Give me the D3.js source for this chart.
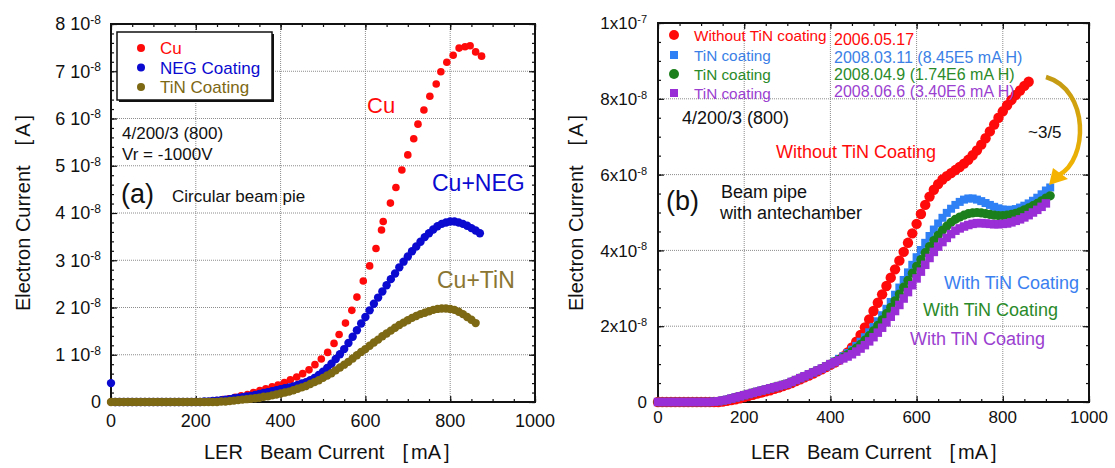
<!DOCTYPE html>
<html>
<head>
<meta charset="utf-8">
<script src="https://cdn.jsdelivr.net/npm/d3@7"></script>
<style>
  body { margin: 0; background: #fff; }
  text { font-family: "Liberation Sans", Arial, sans-serif; }
</style>
</head>
<body>
<svg id="chart" width="1115" height="468"></svg>
<script>
// ---------------------------------------------------------------
// data, panel (a): circular beam pipe, electron current in 1e-8 A
const beamA = [0,10,20,30,40,50,60,70,80,90,100,110,120,130,140,150,160,170,180,190,
  200,210,220,230,240,250,260,270,280,290,300,310,320,330,340,350,360,370,380,390,
  400,410,420,430,440,450,460,470,480,490,500,510,520,530,540,550,560,570,580,590,
  600,610,620,630,640,650,660,670,680,690,700,710,720,730,740,750,760,770,780,790,
  800,810,820,830,840,850,860,870];

const cuX = [0,15,29,44,58,73,87,102,116,131,145,160,175,190,205,220,
  235,249,264,278,293,307,322,336,351,365,380,394,409,423,438,452,467,481,496,511,
  526,538,553,568,580,595,610,625,638,642,659,672,686,700,714,724,738,752,767,778,
  792,807,821,835,847,860,874];
const cuY = [0,0,0,0,0,0,0,0,0,0,0,0,0,0,0,0,
  0.01,0.03,0.05,0.07,0.10,0.13,0.16,0.20,0.24,0.28,0.32,0.36,0.41,0.47,0.53,0.60,0.68,0.79,0.91,1.05,
  1.24,1.43,1.67,1.94,2.22,2.56,2.88,3.25,3.64,3.82,4.21,4.54,4.91,5.23,5.57,5.88,6.18,6.47,6.73,6.99,
  7.19,7.34,7.49,7.52,7.54,7.41,7.32];

// NEG coating, paired with beamA
const negY = [0.40,0,0,0,0,0,0,0,0,0,0,0,0,0,0,0,0,0,0,0,
  0.00,0.00,0.01,0.01,0.02,0.03,0.04,0.05,0.06,0.08,0.09,0.10,0.12,0.13,0.15,0.17,0.19,0.21,0.23,0.25,
  0.27,0.29,0.31,0.33,0.36,0.39,0.42,0.46,0.51,0.57,0.64,0.72,0.81,0.91,1.01,1.12,1.25,1.38,1.52,1.66,
  1.80,1.94,2.08,2.21,2.34,2.47,2.60,2.72,2.85,2.97,3.08,3.19,3.29,3.39,3.49,3.57,3.65,3.72,3.77,3.80,
  3.82,3.82,3.80,3.77,3.73,3.68,3.63,3.57];

// TiN coating, paired with beamA (up to 860 mA)
const tinY = [0,0,0,0,0,0,0,0,0,0,0,0,0,0,0,0,0,0,0,0,
  0,0,0,0,0,0,0.01,0.01,0.02,0.03,0.04,0.05,0.06,0.07,0.08,0.09,0.11,0.12,0.14,0.16,
  0.18,0.20,0.22,0.25,0.28,0.31,0.34,0.38,0.42,0.46,0.51,0.56,0.61,0.67,0.73,0.79,0.85,0.92,0.99,1.06,
  1.12,1.19,1.26,1.32,1.39,1.45,1.51,1.57,1.63,1.68,1.73,1.78,1.82,1.86,1.89,1.92,1.95,1.97,1.98,1.98,
  1.97,1.95,1.91,1.86,1.80,1.74,1.67];

// ---------------------------------------------------------------
// data, panel (b): beam pipe with antechamber, in 1e-8 A
const beamB = [0,10,20,30,40,50,60,70,80,90,100,110,120,130,140,150,160,170,180,190,
  200,210,220,230,240,250,260,270,280,290,300,310,320,330,340,350,360,370,380,390,
  400,410,420,430,440,450,460,470,480,490,500,510,520,530,540,550,560,570,580,590,
  600,610,620,630,640,650,660,670,680,690,700,710,720,730,740,750,760,770,780,790,
  800,810,820,830,840,850,860,870,880,890,900,910];

const withoutTiN = [0,0,0,0,0,0,0,0,0,0,0,0,0,0,0,
  0.01,0.03,0.05,0.07,0.10,0.13,0.16,0.19,0.22,0.25,0.28,0.31,0.35,0.38,0.42,0.46,0.50,0.55,0.60,0.65,
  0.70,0.75,0.81,0.86,0.92,0.98,
  1.04,1.11,1.20,1.31,1.44,1.59,1.77,1.97,2.18,2.40,2.62,2.84,3.06,3.28,3.50,3.73,3.96,4.20,4.45,4.70,
  4.96,5.20,5.42,5.60,5.75,5.87,5.96,6.04,6.12,6.20,6.29,6.39,6.51,6.64,6.79,6.96,7.14,7.32,7.50,7.67,
  7.83,7.97,8.10,8.22,8.34,8.45];

const tin080311 = [0,0,0,0,0,0,0,0,0,0,0,0,0,
  0.01,0.02,0.04,0.06,0.09,0.12,0.15,0.18,0.21,0.24,0.27,0.30,0.33,0.36,0.39,0.42,0.45,0.48,
  0.53,0.58,0.63,0.68,0.73,0.78,0.83,0.88,0.94,1.00,
  1.07,1.14,1.21,1.29,1.38,1.48,1.59,1.71,1.84,1.98,2.13,2.29,2.46,2.64,2.83,3.02,3.22,3.42,3.62,3.82,
  4.01,4.20,4.38,4.55,4.71,4.86,4.99,5.10,5.20,5.28,5.34,5.37,5.37,5.34,5.30,5.25,5.20,5.15,5.11,5.08,
  5.07,5.07,5.09,5.13,5.18,5.24,5.31,5.39,5.48,5.58,5.66];

const tin080409 = [0,0,0,0,0,0,0,0,0,0,0,0,0,
  0.01,0.02,0.04,0.06,0.09,0.12,0.15,0.18,0.21,0.24,0.27,0.30,0.33,0.36,0.39,0.42,0.45,0.48,
  0.53,0.58,0.63,0.68,0.73,0.78,0.83,0.88,0.94,1.00,
  1.06,1.12,1.18,1.25,1.33,1.42,1.52,1.63,1.75,1.88,2.02,2.17,2.33,2.50,2.67,2.85,3.03,3.21,3.40,3.58,
  3.76,3.94,4.10,4.26,4.40,4.53,4.64,4.74,4.82,4.88,4.93,4.97,4.99,5.00,4.99,4.97,4.95,4.93,4.92,4.92,
  4.93,4.95,4.98,5.02,5.07,5.12,5.18,5.24,5.31,5.38,5.44];

const tin080606 = [0,0,0,0,0,0,0,0,0,0,0,0,0,
  0.01,0.02,0.04,0.06,0.09,0.12,0.15,0.18,0.21,0.24,0.27,0.30,0.33,0.36,0.39,0.42,0.45,0.48,
  0.53,0.58,0.63,0.68,0.73,0.78,0.83,0.88,0.94,1.00,
  1.05,1.10,1.15,1.20,1.26,1.33,1.41,1.50,1.60,1.71,1.83,1.96,2.10,2.25,2.40,2.56,2.73,2.90,3.08,3.26,
  3.44,3.62,3.80,3.96,4.10,4.22,4.33,4.43,4.52,4.58,4.63,4.67,4.70,4.72,4.72,4.71,4.70,4.69,4.69,4.70,
  4.71,4.74,4.78,4.82,4.87,4.93,5.00,5.07,5.15,5.24];

// ticks and labels
const xTicks = [0, 200, 400, 600, 800, 1000];
const yTicksA = [0, 1, 2, 3, 4, 5, 6, 7, 8];
const yLabelsA = [["0",""],["1 10","-8"],["2 10","-8"],["3 10","-8"],["4 10","-8"],
  ["5 10","-8"],["6 10","-8"],["7 10","-8"],["8 10","-8"]];
const yTicksB = [0, 2, 4, 6, 8, 10];
const yLabelsB = [["0",""],["2x10","-8"],["4x10","-8"],["6x10","-8"],["8x10","-8"],["1x10","-7"]];

const legendA = ["Cu", "NEG Coating", "TiN Coating"];
const legendB = ["Without TiN coating", "TiN coating", "TiN coating", "TiN coating"];
const datesB = ["2006.05.17", "2008.03.11 (8.45E5 mA H)", "2008.04.9 (1.74E6 mA H)", "2008.06.6 (3.40E6 mA H)"];

// colours
const RED = "#ff0a0a", NEGBLUE = "#0a0ad0", BROWN = "#7d6814";
const LBLUE = "#2f80f5", GREEN = "#1b7f1b", PURPLE = "#9a2ed6";

const svg = d3.select("#chart");

// scales
const xA = d3.scaleLinear().domain([0, 1000]).range([111, 535]);
const yA = d3.scaleLinear().domain([0, 8]).range([402, 24]);
const xB = d3.scaleLinear().domain([0, 1000]).range([658, 1089]);
const yB = d3.scaleLinear().domain([0, 10]).range([402, 23]);

//*********************************************
// frame, grid, inward ticks and tick labels
function drawFrame(x, y, yMajor, yMinor, yLabels, opt) {
  const g = svg.append("g");
  const [l, r] = x.range(), [b, t] = y.range();

  // dotted grid
  g.selectAll(".vgrid").data(xTicks.slice(1, -1)).join("line")
    .attr("x1", d => x(d)).attr("x2", d => x(d)).attr("y1", b).attr("y2", t)
    .attr("stroke", "#8c8c8c").attr("stroke-width", 1).attr("stroke-dasharray", "1,1");
  g.selectAll(".hgrid").data(yMajor.slice(1, -1)).join("line")
    .attr("x1", l).attr("x2", r).attr("y1", d => y(d)).attr("y2", d => y(d))
    .attr("stroke", "#8c8c8c").attr("stroke-width", 1).attr("stroke-dasharray", "1,1");

  const xMinor = d3.range(0, 1001, 50);
  const axes = [
    [d3.axisBottom(x).tickValues(xMinor).tickSize(-3), `translate(0,${b})`],
    [d3.axisBottom(x).tickValues(xTicks).tickSize(-6), `translate(0,${b})`],
    [d3.axisTop(x).tickValues(xMinor).tickSize(-3), `translate(0,${t})`],
    [d3.axisTop(x).tickValues(xTicks).tickSize(-6), `translate(0,${t})`],
    [d3.axisLeft(y).tickValues(yMinor).tickSize(-3), `translate(${l},0)`],
    [d3.axisLeft(y).tickValues(yMajor).tickSize(-6), `translate(${l},0)`],
    [d3.axisRight(y).tickValues(yMinor).tickSize(-3), `translate(${r},0)`],
    [d3.axisRight(y).tickValues(yMajor).tickSize(-6), `translate(${r},0)`]
  ];
  axes.forEach(([ax, tr]) => {
    const a = g.append("g").attr("transform", tr).call(ax.tickFormat(""));
    a.select(".domain").remove();
    a.selectAll("line").attr("stroke", "#111").attr("stroke-width", 1.2);
  });

  // x labels
  g.append("g").selectAll("text").data(xTicks).join("text")
    .attr("x", d => x(d)).attr("y", b + opt.xPad)
    .attr("text-anchor", "middle").attr("dy", "0.71em")
    .attr("font-size", opt.tickFont).attr("fill", "#111")
    .text(d => d);

  // y labels with superscript exponent
  g.append("g").selectAll("text").data(yMajor).join("text")
    .attr("x", opt.yLabelX).attr("y", d => y(d)).attr("dy", "0.36em")
    .attr("text-anchor", "end").attr("font-size", opt.tickFont).attr("fill", "#111")
    .each(function (d, i) {
      const t = d3.select(this);
      t.append("tspan").text(yLabels[i][0]);
      if (yLabels[i][1]) {
        t.append("tspan").attr("dy", "-0.55em").attr("font-size", opt.supFont).text(yLabels[i][1]);
      }
    });

  // outer frame
  g.append("rect").attr("x", l).attr("y", t).attr("width", r - l).attr("height", b - t)
    .attr("fill", "none").attr("stroke", "#111").attr("stroke-width", 2);
  return g;
}

function axisTitles(xStart, yTitleX) {
  // x title, spaced like the original ("LER  Beam Current  [mA]")
  const xt = svg.append("text").attr("x", xStart).attr("y", 459)
    .attr("font-size", 20).attr("fill", "#111");
  xt.append("tspan").text("LER");
  xt.append("tspan").attr("dx", 17).text("Beam Current");
  xt.append("tspan").attr("dx", 18).text("[");
  xt.append("tspan").attr("dx", 3).text("mA");
  xt.append("tspan").attr("dx", 3).text("]");

  const yt = svg.append("text")
    .attr("transform", `translate(${yTitleX},213) rotate(-90)`)
    .attr("text-anchor", "middle").attr("dy", "0.35em")
    .attr("font-size", 20).attr("fill", "#111");
  yt.append("tspan").text("Electron Current");
  yt.append("tspan").attr("dx", 20).text("[");
  yt.append("tspan").attr("dx", 3).text("A");
  yt.append("tspan").attr("dx", 3).text("]");
}

//*********************************************
// panel (a)
drawFrame(xA, yA, yTicksA, d3.range(0, 8.01, 0.2), yLabelsA,
  {xPad: 12, tickFont: 18, supFont: 12, yLabelX: 101});
axisTitles(204, 23);

const ptsCu = cuX.map((v, i) => [v, cuY[i]]);
const ptsNeg = negY.map((v, i) => [beamA[i], v]);
const ptsTin = tinY.map((v, i) => [beamA[i], v]);

svg.append("g").selectAll("circle").data(ptsCu).join("circle")
  .attr("cx", d => xA(d[0])).attr("cy", d => yA(d[1])).attr("r", 3.8).attr("fill", RED);
svg.append("g").selectAll("circle").data(ptsNeg).join("circle")
  .attr("cx", d => xA(d[0])).attr("cy", d => yA(d[1])).attr("r", 4.2).attr("fill", NEGBLUE);
svg.append("g").selectAll("circle").data(ptsTin).join("circle")
  .attr("cx", d => xA(d[0])).attr("cy", d => yA(d[1])).attr("r", 4.2).attr("fill", BROWN);

// legend (a) with drop shadow
svg.append("rect").attr("x", 119).attr("y", 34).attr("width", 155).attr("height", 68).attr("fill", "#111");
svg.append("rect").attr("x", 117).attr("y", 32).attr("width", 155).attr("height", 68)
  .attr("fill", "#fff").attr("stroke", "#111").attr("stroke-width", 1.5);
const colA = [RED, NEGBLUE, BROWN];
legendA.forEach((name, i) => {
  const yy = 48 + i * 19.5;
  svg.append("circle").attr("cx", 141).attr("cy", yy).attr("r", 4).attr("fill", colA[i]);
  svg.append("text").attr("x", 160).attr("y", yy).attr("dy", "0.36em")
    .attr("font-size", 17).attr("fill", colA[i]).text(name);
});

// annotations (a)
svg.append("text").attr("x", 122).attr("y", 139).attr("font-size", 17).attr("fill", "#111").text("4/200/3 (800)");
svg.append("text").attr("x", 122).attr("y", 160).attr("font-size", 17).attr("fill", "#111").text("Vr = -1000V");
svg.append("text").attr("x", 121).attr("y", 203).attr("font-size", 27).attr("fill", "#111").text("(a)");
svg.append("text").attr("x", 172).attr("y", 202).attr("font-size", 17).attr("fill", "#111").text("Circular beam pie");
svg.append("text").attr("x", 367).attr("y", 113).attr("font-size", 22).attr("fill", RED).text("Cu");
svg.append("text").attr("x", 432).attr("y", 191).attr("font-size", 23).attr("fill", NEGBLUE).text("Cu+NEG");
svg.append("text").attr("x", 437).attr("y", 288).attr("font-size", 23).attr("fill", "#8a7632").text("Cu+TiN");

//*********************************************
// panel (b)
drawFrame(xB, yB, yTicksB, d3.range(0, 10.01, 0.5), yLabelsB,
  {xPad: 9, tickFont: 17, supFont: 11, yLabelX: 647});
axisTitles(751, 576);

const seriesB = [
  {vals: withoutTiN, color: RED, shape: "circle", size: 5.2},
  {vals: tin080311, color: LBLUE, shape: "square", size: 8},
  {vals: tin080409, color: GREEN, shape: "circle", size: 4.6},
  {vals: tin080606, color: PURPLE, shape: "square", size: 8.5}
];
seriesB.forEach(s => {
  const pts = s.vals.map((v, i) => [beamB[i], v]);
  const gs = svg.append("g").attr("fill", s.color);
  if (s.shape === "circle") {
    gs.selectAll("circle").data(pts).join("circle")
      .attr("cx", d => xB(d[0])).attr("cy", d => yB(d[1])).attr("r", s.size);
  } else {
    gs.selectAll("rect").data(pts).join("rect")
      .attr("x", d => xB(d[0]) - s.size / 2).attr("y", d => yB(d[1]) - s.size / 2)
      .attr("width", s.size).attr("height", s.size);
  }
});

// legend (b)
const legTextB = [RED, "#3b7fe6", "#2a8a2a", "#9b3fd0"];
const legRowY = [35, 55, 74, 93];
const dateRowY = [39, 57, 74, 91];
legendB.forEach((name, i) => {
  const s = seriesB[i];
  if (s.shape === "circle") {
    svg.append("circle").attr("cx", 674).attr("cy", legRowY[i]).attr("r", 5).attr("fill", s.color);
  } else {
    svg.append("rect").attr("x", 670).attr("y", legRowY[i] - 4).attr("width", 8).attr("height", 8).attr("fill", s.color);
  }
  svg.append("text").attr("x", 694).attr("y", legRowY[i]).attr("dy", "0.36em")
    .attr("font-size", 15.3).attr("fill", legTextB[i]).text(name);
  svg.append("text").attr("x", 834).attr("y", dateRowY[i]).attr("dy", "0.36em")
    .attr("font-size", 16).attr("fill", legTextB[i]).text(datesB[i]);
});

// annotations (b)
svg.append("text").attr("x", 682).attr("y", 124).attr("font-size", 18).attr("fill", "#111").text("4/200/3 (800)");
svg.append("text").attr("x", 776).attr("y", 158).attr("font-size", 18).attr("fill", RED).text("Without TiN Coating");
svg.append("text").attr("x", 1028).attr("y", 138).attr("font-size", 17).attr("fill", "#111").text("~3/5");
svg.append("text").attr("x", 666).attr("y", 210).attr("font-size", 27).attr("fill", "#111").text("(b)");
svg.append("text").attr("x", 721).attr("y", 198).attr("font-size", 18).attr("fill", "#111").text("Beam pipe");
svg.append("text").attr("x", 720).attr("y", 219).attr("font-size", 18).attr("fill", "#111").text("with antechamber");
svg.append("text").attr("x", 944).attr("y", 289).attr("font-size", 18).attr("fill", "#3a80f0").text("With TiN Coating");
svg.append("text").attr("x", 923).attr("y", 316).attr("font-size", 18).attr("fill", "#2a8a2a").text("With TiN Coating");
svg.append("text").attr("x", 910).attr("y", 345).attr("font-size", 18).attr("fill", "#9b3fd0").text("With TiN Coating");

// curved "~3/5" arrow
const defs = svg.append("defs");
const grad = defs.append("linearGradient").attr("id", "arrowGrad")
  .attr("gradientUnits", "userSpaceOnUse").attr("x1", 0).attr("y1", 76).attr("x2", 0).attr("y2", 186);
grad.append("stop").attr("offset", "0%").attr("stop-color", "#c39a14");
grad.append("stop").attr("offset", "100%").attr("stop-color", "#f8b800");
svg.append("path")
  .attr("d", "M1046,77 C1090,90 1088,160 1059,175")
  .attr("fill", "none").attr("stroke", "url(#arrowGrad)").attr("stroke-width", 4.5);
svg.append("path")
  .attr("d", "M1049,185 L1053,168 L1068,179 Z")
  .attr("fill", "#f5b300");
</script>
</body>
</html>
